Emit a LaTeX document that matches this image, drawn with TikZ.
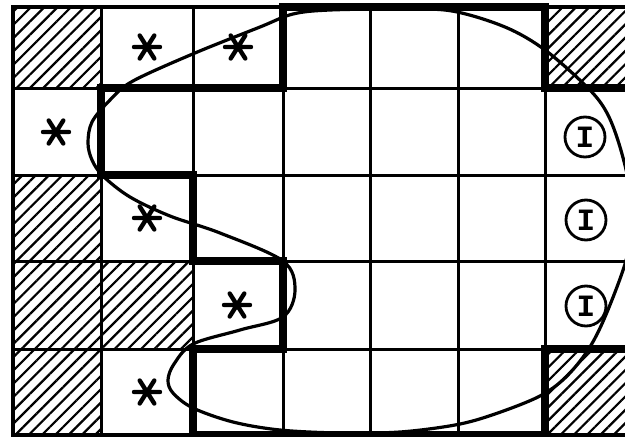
\documentclass[tikz,border=0pt]{standalone}
\usepackage{fontspec}
\newfontfamily\monob{Liberation Mono}
\usetikzlibrary{patterns.meta}
\begin{document}
\begin{tikzpicture}[x=1pt,y=-1pt,
  gridline/.style={line width=3pt},
  outer/.style={line width=4pt},
  heavy/.style={line width=7.8pt, line join=miter},
  curveline/.style={line width=3.2pt, line join=round},
  hatch/.style={pattern={Lines[angle=45,distance=9.4pt,line width=2.2pt]}},
  aster/.pic={\draw[line width=4.4pt,line cap=round] (-13,0)--(13,0) (-7.3,-11.5)--(7.3,11.5) (-7.3,11.5)--(7.3,-11.5);},
  ibox/.style={circle,draw,line width=2.8pt,minimum size=40pt,inner sep=0pt,font=\monob\bfseries\fontsize{31}{31}\selectfont}
]
\useasboundingbox (0,0) rectangle (625,437);
\fill[white] (0,0) rectangle (625,437);
\begin{scope}
\clip (0,0) rectangle (625,437);
% hatched cells
\foreach \xa/\xb/\ya/\yb in {13/101/7/88, 545/633/7/88, 13/101/175/261, 13/101/261/349, 101/193/261/349, 13/101/349/435, 545/633/349/435}
  \fill[hatch] (\xa,\ya) rectangle (\xb,\yb);
% grid
\foreach \x in {13,101,193,283,370,458,545,633} \draw[gridline] (\x,7) -- (\x,435);
\foreach \y in {7,88,175,261,349,435} \draw[gridline] (13,\y) -- (633,\y);
\draw[outer] (13,7) rectangle (633,435);
% heavy boundary
\draw[heavy] (283,7) -- (545,7) -- (545,88) -- (633,88) -- (633,349) -- (545,349) -- (545,435) -- (193,435) -- (193,349) -- (283,349) -- (283,261) -- (193,261) -- (193,175) -- (101,175) -- (101,88) -- (283,88) -- cycle;
% closed curve
\draw[curveline] plot[smooth cycle, tension=0.55] coordinates {
 (260,27) (293,14) (330,10) (400,9) (452,11) (505,27) (545,50) (588,88)
 (607,113) (620,147) (630,190) (631,230) (625,264) (605,317) (588,350)
 (565,378) (538,397) (492,415) (455,425) (400,432) (340,433) (280,430)
 (233,422) (193,408) (173,393) (168,380) (174,364) (193,344) (240,330)
 (283,317) (295,290) (283,261) (220,233) (170,216) (130,197) (103,176)
 (92,160) (88,143) (92,122) (110,100) (133,81) (195,53)};
\end{scope}
% asterisks
\pic at (147,47) {aster};
\pic at (238,47) {aster};
\pic at (56,132) {aster};
\pic at (147,218) {aster};
\pic at (237,305) {aster};
\pic at (147,392) {aster};
% circled I
\node[ibox] (i1) at (585,137) {I};
\node[ibox] (i2) at (586,220) {I};
\node[ibox] (i3) at (586,306) {I};
\end{tikzpicture}
\end{document}
